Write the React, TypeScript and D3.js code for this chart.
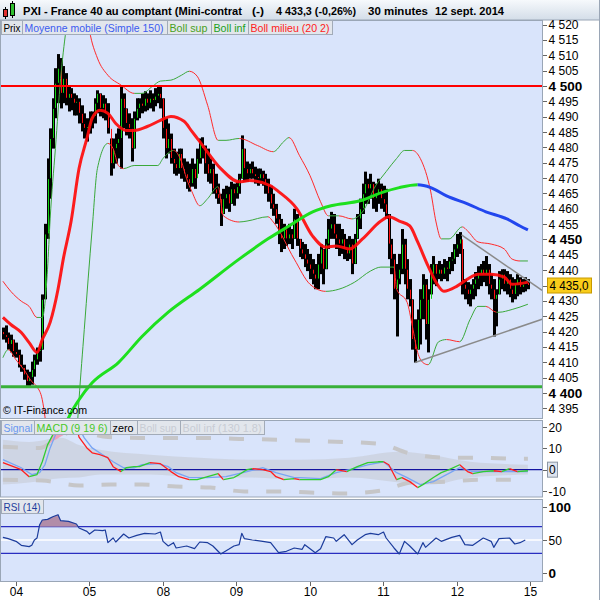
import React from 'react';
import * as d3 from 'd3';

// ---------- DATA ----------
const HIGH = [
  4421.3, 4422.0, 4419.7, 4419.0, 4417.4, 4416.4, 4414.1, 4412.5, 4409.2, 4407.6,
  4406.9, 4410.2, 4412.5, 4414.8, 4415.8, 4432.1, 4455.1, 4476.4, 4486.2, 4496.0,
  4505.8, 4510.4, 4509.1, 4506.5, 4504.2, 4500.3, 4499.3, 4497.6, 4497.0, 4496.0,
  4493.7, 4491.1, 4489.5, 4491.7, 4491.7, 4496.0, 4498.6, 4497.6, 4497.0, 4496.0,
  4494.4, 4482.9, 4482.9, 4484.5, 4486.2, 4500.3, 4497.6, 4492.7, 4491.1, 4489.5,
  4491.7, 4496.0, 4496.0, 4497.6, 4498.3, 4497.6, 4498.6, 4497.6, 4499.3, 4500.3,
  4500.0, 4496.0, 4489.5, 4487.8, 4484.5, 4479.6, 4478.6, 4479.6, 4479.6, 4476.4,
  4475.4, 4474.7, 4476.4, 4474.7, 4479.6, 4482.9, 4483.3, 4480.6, 4479.6, 4476.4,
  4474.7, 4471.4, 4468.2, 4464.9, 4466.5, 4467.5, 4467.2, 4468.8, 4468.2, 4468.8,
  4471.4, 4483.9, 4479.6, 4475.4, 4474.7, 4475.4, 4473.7, 4473.1, 4473.1, 4472.4,
  4471.4, 4469.8, 4467.5, 4464.9, 4461.6, 4458.3, 4456.7, 4455.1, 4454.4, 4455.1,
  4453.4, 4460.0, 4458.3, 4450.2, 4449.2, 4448.5, 4446.9, 4445.3, 4443.6, 4442.0,
  4445.3, 4448.5, 4446.9, 4450.2, 4456.7, 4459.0, 4458.3, 4455.1, 4455.1, 4453.4,
  4451.8, 4450.2, 4451.1, 4450.2, 4451.8, 4458.3, 4463.3, 4468.2, 4472.1, 4469.8,
  4471.4, 4468.8, 4468.2, 4469.8, 4468.2, 4467.5, 4466.5, 4458.3, 4450.2, 4445.3,
  4442.0, 4445.3, 4453.4, 4450.2, 4443.6, 4437.1, 4430.5, 4424.0, 4427.2, 4433.8,
  4438.7, 4437.1, 4433.8, 4442.0, 4444.6, 4442.0, 4443.0, 4442.0, 4443.6, 4443.0,
  4444.3, 4445.9, 4448.5, 4451.8, 4452.4, 4446.9, 4437.1, 4436.1, 4435.4, 4437.1,
  4439.4, 4441.3, 4442.0, 4443.0, 4444.6, 4442.0, 4438.7, 4437.1, 4433.8, 4439.7,
  4440.3, 4440.3, 4439.7, 4438.7, 4437.7, 4437.1, 4438.7, 4437.7, 4437.1, 4437.7,
  4437.1,
];
const LOW = [
  4417.4, 4416.4, 4414.1, 4413.2, 4411.8, 4411.5, 4408.3, 4406.9, 4404.3, 4402.3,
  4402.0, 4402.7, 4405.3, 4409.2, 4410.2, 4414.1, 4430.5, 4450.2, 4463.3, 4479.6,
  4489.5, 4494.4, 4492.7, 4494.4, 4493.7, 4491.7, 4492.1, 4490.4, 4490.4, 4487.8,
  4485.2, 4482.9, 4481.9, 4484.5, 4486.2, 4487.8, 4491.1, 4490.1, 4489.5, 4488.8,
  4484.5, 4470.8, 4473.1, 4474.7, 4476.4, 4473.1, 4486.2, 4483.9, 4482.9, 4475.4,
  4479.6, 4488.8, 4489.5, 4491.1, 4491.7, 4492.1, 4492.7, 4491.7, 4493.4, 4494.4,
  4492.7, 4482.9, 4476.4, 4478.0, 4474.7, 4471.4, 4470.8, 4471.4, 4469.8, 4468.8,
  4466.5, 4465.6, 4467.2, 4466.5, 4471.4, 4474.7, 4476.4, 4471.4, 4468.8, 4468.2,
  4464.9, 4463.3, 4461.6, 4454.4, 4458.3, 4460.0, 4459.0, 4461.6, 4461.0, 4463.3,
  4464.9, 4469.8, 4468.8, 4468.8, 4469.8, 4469.8, 4468.2, 4467.5, 4468.2, 4467.5,
  4464.9, 4462.3, 4460.0, 4457.7, 4455.1, 4448.5, 4445.9, 4446.9, 4447.9, 4448.5,
  4446.9, 4450.2, 4447.9, 4444.3, 4443.6, 4441.0, 4439.7, 4437.1, 4435.4, 4433.8,
  4433.8, 4438.7, 4435.4, 4440.3, 4446.9, 4450.2, 4450.2, 4446.9, 4444.6, 4445.3,
  4443.6, 4443.0, 4443.6, 4438.7, 4442.0, 4450.2, 4453.4, 4458.3, 4461.6, 4461.6,
  4463.3, 4460.0, 4459.0, 4461.6, 4460.0, 4459.0, 4456.7, 4443.6, 4438.7, 4430.5,
  4418.4, 4435.4, 4438.7, 4435.4, 4430.5, 4428.2, 4414.1, 4409.9, 4414.1, 4415.8,
  4424.0, 4417.4, 4413.2, 4432.1, 4435.4, 4434.8, 4437.1, 4436.4, 4437.1, 4436.4,
  4438.7, 4439.7, 4442.0, 4444.3, 4445.3, 4432.1, 4430.5, 4428.9, 4428.2, 4430.5,
  4431.5, 4433.8, 4434.8, 4436.1, 4434.8, 4432.1, 4430.5, 4418.4, 4421.7, 4432.1,
  4433.8, 4433.1, 4432.1, 4431.2, 4429.5, 4430.5, 4431.5, 4432.1, 4432.8, 4433.1,
  4433.8,
];
const CLOSE = [
  4419.0, 4418.1, 4415.8, 4417.4, 4413.5, 4412.5, 4409.2, 4408.3, 4405.9, 4403.7,
  4405.0, 4407.6, 4410.8, 4413.5, 4414.1, 4430.5, 4451.8, 4469.8, 4482.9, 4492.7,
  4500.9, 4505.8, 4497.6, 4502.5, 4496.0, 4497.6, 4496.0, 4494.4, 4495.0, 4491.1,
  4487.8, 4486.2, 4486.8, 4489.5, 4490.1, 4494.4, 4497.6, 4492.7, 4494.4, 4491.1,
  4486.2, 4474.7, 4479.6, 4481.3, 4482.9, 4496.0, 4492.7, 4487.8, 4486.2, 4479.6,
  4489.5, 4492.7, 4494.4, 4493.4, 4496.0, 4494.4, 4496.0, 4495.3, 4496.7, 4497.6,
  4496.0, 4486.2, 4479.6, 4482.9, 4476.4, 4474.7, 4473.1, 4478.0, 4473.1, 4471.4,
  4469.8, 4468.2, 4473.1, 4469.8, 4476.4, 4481.3, 4479.6, 4474.7, 4471.4, 4473.1,
  4466.5, 4464.9, 4463.3, 4458.3, 4463.3, 4464.9, 4461.6, 4466.5, 4464.9, 4467.2,
  4469.8, 4479.6, 4473.1, 4471.4, 4473.1, 4471.4, 4470.5, 4469.8, 4471.4, 4469.8,
  4468.2, 4464.9, 4461.6, 4460.0, 4456.7, 4451.8, 4450.2, 4453.4, 4450.2, 4451.8,
  4450.2, 4456.7, 4450.2, 4446.9, 4445.3, 4443.6, 4442.0, 4440.3, 4438.7, 4437.1,
  4442.0, 4446.9, 4440.3, 4448.5, 4453.4, 4455.1, 4451.8, 4450.2, 4448.5, 4450.2,
  4446.9, 4445.3, 4448.5, 4442.0, 4450.2, 4456.7, 4460.0, 4464.9, 4468.2, 4466.5,
  4468.2, 4463.3, 4464.9, 4466.5, 4463.3, 4461.6, 4458.3, 4448.5, 4443.6, 4433.8,
  4437.1, 4440.3, 4448.5, 4440.3, 4433.8, 4430.5, 4417.4, 4414.1, 4424.0, 4430.5,
  4435.4, 4422.3, 4430.5, 4438.7, 4442.0, 4438.7, 4440.3, 4438.7, 4441.0, 4440.3,
  4443.0, 4443.6, 4446.9, 4448.5, 4450.2, 4435.4, 4433.8, 4432.1, 4433.8, 4435.4,
  4437.1, 4438.7, 4440.3, 4438.7, 4440.3, 4435.4, 4433.8, 4430.5, 4432.1, 4437.1,
  4438.7, 4435.4, 4437.1, 4433.8, 4432.1, 4435.4, 4437.1, 4434.4, 4435.4, 4436.1,
  4435.0,
];
const FIRST_OPEN = 4420.0;

const DAY_LABELS = ['04', '05', '08', '09', '10', '11', '12', '15'];
const DAY_START = [5, 33, 61, 89, 117, 145, 173, 201];

const PRICE_TICKS = [4395, 4400, 4405, 4410, 4415, 4420, 4425, 4430, 4435, 4440, 4445, 4450, 4455,
  4460, 4465, 4470, 4475, 4480, 4485, 4490, 4495, 4500, 4505, 4510, 4515, 4520];
const BOLD_TICKS = [4400, 4450, 4500];
const MACD_TICKS = [20, 10, 0, -10];
const RSI_TICKS = [100, 50, 0];

type P = [number, number];

const BB_MID: P[] = [
  [0, 4424.6], [3, 4422.3], [7, 4419.7], [10, 4416.4], [13, 4413.2], [15, 4417.4], [18, 4423.0],
  [21, 4433.8], [23, 4443.6], [26, 4456.0], [29, 4473.1], [32, 4482.9], [34, 4489.5], [37, 4492.1],
  [40, 4491.1], [43, 4487.8], [47, 4485.5], [50, 4485.5], [55, 4486.8], [60, 4488.8], [64, 4490.1],
  [69, 4488.5], [72, 4485.2], [75, 4481.9], [83, 4473.1], [90, 4468.8], [94, 4469.2], [102, 4467.5],
  [105, 4465.6], [112, 4460.0], [118, 4451.1], [123, 4447.5], [127, 4447.9], [132, 4446.9],
  [137, 4450.2], [144, 4456.0], [147, 4457.4], [151, 4456.0], [155, 4454.4], [158, 4449.2],
  [162, 4441.3], [165, 4436.1], [168, 4433.1], [173, 4434.8], [177, 4437.1], [181, 4438.7],
  [186, 4438.7], [191, 4437.7], [194, 4435.4], [200, 4436.1],
];
const BB_UP: P[] = [
  [0, 4436.4], [3, 4433.1], [7, 4429.9], [10, 4428.2], [13, 4424.6], [15, 4424.6], [17, 4440.3],
  [18, 4456.7], [20, 4479.6], [22, 4502.5], [24, 4518.0], [26, 4528.7], [28, 4535.0], [31, 4530.0],
  [33, 4518.0], [36, 4509.1], [40, 4503.5], [45, 4500.3], [50, 4497.6], [53, 4497.6], [57, 4499.9],
  [60, 4501.6], [64, 4501.9], [68, 4503.5], [71, 4504.8], [74, 4503.2], [78, 4493.7], [82, 4482.3],
  [85, 4482.3], [90, 4482.9], [97, 4480.6], [103, 4478.6], [107, 4481.9], [109, 4483.2],
  [113, 4477.3], [117, 4470.8], [121, 4462.3], [124, 4457.7], [128, 4457.7], [133, 4456.7],
  [137, 4459.0], [142, 4467.5], [146, 4472.1], [150, 4476.4], [153, 4479.0], [156, 4479.0],
  [159, 4476.4], [163, 4465.5], [165, 4455.7], [167, 4450.2], [170, 4450.2], [175, 4454.1],
  [177, 4452.8], [181, 4449.2], [186, 4448.5], [191, 4446.9], [194, 4443.6], [197, 4443.0],
  [200, 4443.0],
];
const BB_LOW: P[] = [
  [0, 4411.5], [2, 4414.1], [5, 4410.8], [8, 4407.6], [11, 4403.7], [13, 4402.0], [15, 4397.8],
  [17, 4385.0], [19, 4365.0], [22, 4350.0], [25, 4345.0], [27, 4370.0], [29, 4397.8], [31, 4420.7],
  [34, 4453.4], [36, 4473.1], [40, 4481.3], [42, 4479.6], [44, 4474.1], [46, 4473.1], [50, 4474.1],
  [53, 4474.1], [59, 4474.1], [61, 4476.4], [65, 4479.0], [68, 4475.4], [70, 4469.8], [72, 4465.6],
  [75, 4461.0], [78, 4463.3], [82, 4467.2], [84, 4457.7], [90, 4455.7], [93, 4456.0], [101, 4457.4],
  [103, 4455.7], [111, 4443.6], [117, 4435.4], [123, 4433.1], [128, 4433.8], [134, 4436.1],
  [140, 4439.7], [144, 4441.0], [149, 4441.0], [150, 4433.8], [154, 4429.5], [156, 4421.7],
  [158, 4413.2], [160, 4409.9], [162, 4409.2], [166, 4416.7], [169, 4417.4], [174, 4416.7],
  [178, 4424.0], [181, 4428.2], [184, 4428.2], [188, 4426.3], [189, 4426.3], [194, 4427.2],
  [200, 4428.9],
];
const SMA150: P[] = [
  [20, 4378.0], [25, 4391.9], [29, 4397.8], [34, 4403.3], [44, 4409.9], [53, 4418.4], [63, 4426.3],
  [75, 4433.8], [90, 4443.6], [101, 4450.2], [109, 4454.4], [118, 4459.0], [125, 4461.0],
  [136, 4462.6], [144, 4465.2], [151, 4466.9], [158, 4467.8], [163, 4466.9], [169, 4464.2],
  [177, 4461.6], [184, 4459.0], [192, 4456.7], [197, 4454.4], [200, 4453.1],
];
const SUPPORT = 4402;
const RESISTANCE = 4500;
const TREND_UPPER: P[] = [[174.7, 4451.5], [205.4, 4433.4]];
const TREND_LOWER: P[] = [[157, 4409.9], [205.4, 4424.0]];
const LAST_PRICE = 4435.0;

const MACD: P[] = [
  [0, 3.3], [7, 0], [10, -3.3], [13, -2.3], [15, 3.7], [17, 11.6], [19, 16.3], [21, 23], [24, 30],
  [27, 26], [29, 15.3], [32, 10.2], [34, 7.9], [37, 7.0], [40, 5.6], [42, 1.4], [45, -0.9], [47, 0.9],
  [50, 1.4], [52, 1.4], [56, 3.3], [60, 2.8], [64, -0.9], [67, -3.3], [71, -4.7], [74, -4.7],
  [78, -3.3], [82, -1.9], [84, -4.7], [88, -3.7], [90, -2.3], [93, 0], [95, 0.5], [99, 0],
  [102, -0.9], [104, -3.3], [107, -4.7], [111, -4.2], [113, -4.7], [121, -4.7], [124, -3.3],
  [127, 0], [131, -0.9], [135, 1.4], [139, 3.3], [143, 3.7], [145, 3.7], [147, 2.3], [150, -4.7],
  [152, -3.7], [155, -5.6], [158, -8.4], [160, -7.0], [164, -3.7], [167, -1.4], [170, 0], [174, 2.3],
  [177, -0.9], [179, -1.9], [183, -0.9], [187, -0.5], [190, -0.9], [193, 0.5], [196, -0.9], [200, -0.5],
];
const SIGNAL: P[] = [
  [0, 4.7], [7, 0.9], [11, -2.3], [14, -1.4], [16, 2.3], [18, 10.2], [20, 16.3], [23, 24], [27, 24],
  [31, 14.9], [34, 10.2], [38, 7.0], [42, 3.7], [46, 0.9], [50, 0.9], [53, 2.3], [59, 2.8], [63, 1.4],
  [66, -1.4], [71, -3.7], [78, -3.7], [85, -3.3], [93, -0.9], [99, 0.9], [104, -1.4], [111, -3.7],
  [113, -3.7], [121, -4.2], [127, -1.4], [132, 0], [139, 2.3], [145, 3.7], [150, -1.4], [154, -3.7],
  [159, -7.0], [164, -5.6], [169, -2.3], [174, 0.9], [179, -0.9], [184, -0.9], [192, -0.9], [200, -0.9],
];
const MACD_BOLL_SUP: P[] = [
  [0, 10.7], [14, 10.2], [20, 14.0], [27, 18.1], [40, 15.3], [52, 14.9], [66, 14.9], [78, 14.9],
  [91, 14.4], [106, 14.0], [117, 13.5], [130, 13.0], [144, 12.1], [154, 7.9], [169, 5.6], [182, 5.6],
  [195, 5.1], [200, 5.1],
];
const MACD_BOLL_INF: P[] = [
  [0, -4.7], [15, -5.1], [29, -7.4], [41, -7.0], [53, -7.0], [66, -7.9], [79, -8.4], [92, -10.2],
  [106, -10.2], [117, -10.7], [130, -11.2], [144, -9.8], [156, -6.0], [169, -5.6], [181, -4.7],
  [195, -4.7], [200, -4.7],
];
const MACD_ZONE_IDX = [0, 10, 22, 29, 37, 56, 75, 94, 113, 132, 151, 163, 178, 200];
const MACD_ZONE_TOP = [14, 13, 15, 11.6, 9.3, 7, 5.6, 4.7, 4.7, 5.6, 8.4, 7, 3.7, 2.3];
const MACD_ZONE_BOT = [-7, -6, -4, -3.7, -2.3, -2.3, -3.7, -3.7, -4.7, -3.7, -6, -7, -3.7, -2.3];

const RSI: P[] = [
  [0, 54], [2, 52], [5, 48], [7, 42], [10, 40], [11, 42], [12, 50], [13, 53], [14, 73], [15, 80],
  [17, 81], [19, 85], [21, 88], [22, 79], [25, 78], [28, 74], [29, 68], [32, 63], [33, 59], [35, 65],
  [38, 64], [39, 65], [40, 46], [42, 53], [43, 47], [46, 59], [48, 53], [51, 57], [54, 60], [58, 59],
  [60, 62], [61, 48], [63, 41], [65, 46], [66, 38], [70, 41], [73, 37], [75, 47], [78, 46], [80, 41],
  [83, 29], [86, 36], [88, 41], [90, 43], [91, 60], [92, 52], [95, 50], [99, 48], [102, 46], [105, 31],
  [108, 33], [111, 38], [114, 36], [115, 43], [119, 31], [121, 37], [123, 55], [126, 53], [127, 48],
  [130, 58], [133, 43], [135, 50], [138, 58], [140, 60], [143, 58], [145, 62], [146, 53], [149, 38],
  [151, 29], [153, 48], [155, 41], [158, 29], [160, 46], [161, 39], [165, 53], [167, 48], [171, 54],
  [174, 57], [176, 43], [179, 42], [183, 53], [186, 48], [187, 39], [189, 52], [193, 53], [195, 44],
  [197, 46], [199, 50],
];

// ---------- LAYOUT ----------
const FONT = "Arial, 'Liberation Sans', sans-serif";
const PX0 = 0.5;
const PX1 = 542.5;
const MAIN = { y0: 20.5, y1: 418.5 };
const MP = { y0: 420.5, y1: 497 };
const RP = { y0: 499.5, y1: 581.5 };
const PANEL_BG = '#d9e4fb';
const BORDER = '#9aa6b6';

const x = d3.scaleLinear().domain([0, 200]).range([2.9, 527.9]);
const yP = d3.scaleLinear().domain([4395, 4500]).range([408.3, 86]);
const yM = d3.scaleLinear().domain([-10, 20]).range([491, 427]);
const yR = d3.scaleLinear().domain([0, 100]).range([573.3, 506.7]);

const fmtPrice = (v: number) => `${Math.floor(v / 1000)} ${String(v % 1000).padStart(3, '0')}`;

function DirLine(props: {
  id: string; pts: P[]; ys: d3.ScaleLinear<number, number>; up: string; down: string;
  width: number; curve?: d3.CurveFactory; opacity?: number;
}) {
  const { id, pts, ys, up, down, width, curve, opacity } = props;
  const line = d3.line<P>().x((d) => x(d[0])).y((d) => ys(d[1])).curve(curve || d3.curveLinear);
  const dStr = line(pts) || '';
  const upR: number[][] = [];
  const dnR: number[][] = [];
  for (let k = 0; k < pts.length - 1; k++) {
    const a = k === 0 ? -10 : x(pts[k][0]);
    const b = k === pts.length - 2 ? 700 : x(pts[k + 1][0]);
    if (pts[k + 1][1] >= pts[k][1]) upR.push([a, b]);
    else dnR.push([a, b]);
  }
  return (
    <g>
      <defs>
        <clipPath id={id + 'u'}>
          {upR.map((r, i) => <rect key={i} x={r[0]} y={-100} width={r[1] - r[0]} height={900} />)}
        </clipPath>
        <clipPath id={id + 'd'}>
          {dnR.map((r, i) => <rect key={i} x={r[0]} y={-100} width={r[1] - r[0]} height={900} />)}
        </clipPath>
      </defs>
      <path d={dStr} fill="none" stroke={up} strokeWidth={width} clipPath={`url(#${id}u)`} opacity={opacity ?? 1} strokeLinejoin="round" />
      <path d={dStr} fill="none" stroke={down} strokeWidth={width} clipPath={`url(#${id}d)`} opacity={opacity ?? 1} strokeLinejoin="round" />
    </g>
  );
}

function LegendBox(props: { x: number; y: number; w: number; text: string; color: string; tl: number }) {
  const { x: bx, y, w, text, color, tl } = props;
  return (
    <g>
      <rect x={bx + 0.5} y={y + 0.5} width={w} height={14} fill="#e2e6ec" stroke="#a2abb8" />
      <text x={bx + 2.5} y={y + 11.5} fontSize={10.8} fontFamily={FONT} fill={color}
        textLength={tl} lengthAdjust="spacingAndGlyphs">{text}</text>
    </g>
  );
}

export default function App() {
  const mainLine = (pts: P[]) => d3.line<P>().x((d) => x(d[0])).y((d) => yP(d[1])).curve(d3.curveMonotoneX)(pts) || '';
  const macdLine = (pts: P[]) => d3.line<P>().x((d) => x(d[0])).y((d) => yM(d[1]))(pts) || '';
  const macdSmooth = (pts: P[]) => d3.line<P>().x((d) => x(d[0])).y((d) => yM(d[1])).curve(d3.curveMonotoneX)(pts) || '';
  const zone = d3.area<number>()
    .x((_, k) => x(MACD_ZONE_IDX[k]))
    .y0((_, k) => yM(MACD_ZONE_BOT[k]))
    .y1((_, k) => yM(MACD_ZONE_TOP[k]))
    .curve(d3.curveMonotoneX)(MACD_ZONE_IDX) || '';
  const underMacd = d3.area<P>().x((d) => x(d[0])).y0(700).y1((d) => yM(d[1]))(MACD) || '';
  const aboveSup = d3.area<P>().x((d) => x(d[0])).y0(0).y1((d) => yM(d[1])).curve(d3.curveMonotoneX)(MACD_BOLL_SUP) || '';
  const rsiLine = d3.line<P>().x((d) => x(d[0])).y((d) => yR(d[1]))(RSI) || '';
  const underRsi = d3.area<P>().x((d) => x(d[0])).y0(700).y1((d) => yR(d[1]))(RSI) || '';
  const lastY = yP(LAST_PRICE);

  return (
    <svg width={600} height={600} style={{ position: 'fixed', left: 0, top: 0, background: '#fff' }}
      fontFamily={FONT}>
      <defs>
        <linearGradient id="hdr" x1="0" y1="0" x2="0" y2="1">
          <stop offset="0" stopColor="#f6f9fc" />
          <stop offset="1" stopColor="#d3dde8" />
        </linearGradient>
        <clipPath id="cMain"><rect x={PX0} y={MAIN.y0} width={PX1 - PX0} height={MAIN.y1 - MAIN.y0} /></clipPath>
        <clipPath id="cMacd"><rect x={PX0} y={MP.y0} width={PX1 - PX0} height={MP.y1 - MP.y0} /></clipPath>
        <clipPath id="cRsi"><rect x={PX0} y={RP.y0} width={PX1 - PX0} height={RP.y1 - RP.y0} /></clipPath>
        <clipPath id="cUnderMacd"><path d={underMacd} /></clipPath>
        <clipPath id="cUnderRsi"><path d={underRsi} /></clipPath>
      </defs>
      <rect x={0} y={0} width={600} height={600} fill="#fff" />

      {/* Header */}
      <rect x={0} y={0} width={600} height={20} fill="url(#hdr)" />
      <line x1={0} x2={600} y1={20} y2={20} stroke={BORDER} />
      <line x1={599.5} x2={599.5} y1={0} y2={600} stroke={BORDER} />
      <g>
        <line x1={5.5} x2={5.5} y1={7} y2={19} stroke="#000" />
        <rect x={3.5} y={9.5} width={4} height={7} fill="#e03030" stroke="#000" />
        <line x1={12.5} x2={12.5} y1={1} y2={18} stroke="#000" />
        <rect x={10.5} y={3.5} width={4} height={12} fill="#30c030" stroke="#000" />
      </g>
      <g fontWeight="bold" fontSize={11} fill="#000">
        <text x={23} y={15} textLength={219} lengthAdjust="spacingAndGlyphs">PXI - France 40 au comptant (Mini-contrat</text>
        <text x={252} y={15} textLength={12} lengthAdjust="spacingAndGlyphs">(-)</text>
        <text x={276} y={15} textLength={80} lengthAdjust="spacingAndGlyphs">4 433,3 (-0,26%)</text>
        <text x={368} y={15} textLength={60} lengthAdjust="spacingAndGlyphs">30 minutes</text>
        <text x={435} y={15} textLength={69} lengthAdjust="spacingAndGlyphs">12 sept. 2014</text>
      </g>

      {/* ===== MAIN PANEL ===== */}
      <rect x={PX0} y={MAIN.y0} width={PX1 - PX0} height={MAIN.y1 - MAIN.y0} fill={PANEL_BG} />
      <g clipPath="url(#cMain)">
        {CLOSE.map((c, i) => {
          const o = i === 0 ? FIRST_OPEN : CLOSE[i - 1];
          const xi = Math.round(x(i));
          const top = yP(HIGH[i]);
          const bot = yP(LOW[i]);
          return (
            <g key={i}>
              <rect x={xi - 1} y={top} width={3} height={Math.max(1.5, bot - top)} fill="#000" />
              <line x1={xi + 0.5} x2={xi + 0.5} y1={yP(Math.max(o, c)) + 0.5} y2={yP(Math.min(o, c)) - 0.5}
                stroke={c >= o ? '#10d010' : '#ff1010'} strokeWidth={1} />
            </g>
          );
        })}
        <DirLine id="bbu" pts={BB_UP} ys={yP} up="#3aa83a" down="#ff2a2a" width={1} curve={d3.curveMonotoneX} />
        <DirLine id="bbl" pts={BB_LOW} ys={yP} up="#3aa83a" down="#ff2a2a" width={1} curve={d3.curveMonotoneX} />
        <path d={mainLine(BB_MID)} fill="none" stroke="#ff0a0a" strokeWidth={3} opacity={0.92} />
        <DirLine id="sma" pts={SMA150} ys={yP} up="#1ee01e" down="#2246ee" width={3} curve={d3.curveMonotoneX} />
        <line x1={PX0} x2={PX1} y1={yP(RESISTANCE)} y2={yP(RESISTANCE)} stroke="#ff0000" strokeWidth={2} />
        <line x1={PX0} x2={PX1} y1={yP(SUPPORT)} y2={yP(SUPPORT)} stroke="#38b038" strokeWidth={3} />
        <path d={d3.line<P>().x((d) => x(d[0])).y((d) => yP(d[1]))(TREND_UPPER) || ''} stroke="#8a8a8a" strokeWidth={1.5} fill="none" />
        <path d={d3.line<P>().x((d) => x(d[0])).y((d) => yP(d[1]))(TREND_LOWER) || ''} stroke="#8a8a8a" strokeWidth={1.5} fill="none" />
      </g>
      <rect x={PX0} y={MAIN.y0} width={PX1 - PX0} height={MAIN.y1 - MAIN.y0} fill="none" stroke={BORDER} />
      <LegendBox x={1} y={20} w={21} text="Prix" color="#000" tl={17} />
      <LegendBox x={22} y={20} w={145} text="Moyenne mobile (Simple 150)" color="#3c5cf0" tl={139} />
      <LegendBox x={167} y={20} w={44} text="Boll sup" color="#48a020" tl={38} />
      <LegendBox x={211} y={20} w={37} text="Boll inf" color="#20a020" tl={32} />
      <LegendBox x={248} y={20} w={84} text="Boll milieu (20 2)" color="#ff2020" tl={79} />
      <text x={3} y={414} fontSize={11.5} fill="#000" textLength={84} lengthAdjust="spacingAndGlyphs">© IT-Finance.com</text>

      {/* Main axis */}
      {PRICE_TICKS.map((v) => {
        const yy = yP(v);
        const bold = BOLD_TICKS.includes(v);
        const hidden = Math.abs(yy - lastY) < 8;
        return (
          <g key={v}>
            <line x1={543} x2={547} y1={Math.round(yy) + 0.5} y2={Math.round(yy) + 0.5} stroke="#666" />
            {!hidden && (
              <text x={548.5} y={yy + (bold ? 5 : 4.5)} fontSize={bold ? 13.5 : 12} fontWeight={bold ? 'bold' : 'normal'} fill="#000">
                {fmtPrice(v)}
              </text>
            )}
          </g>
        );
      })}
      <rect x={547.5} y={lastY - 7.5} width={44} height={15} fill="#f9cc1a" stroke="#c89a00" />
      <text x={549.5} y={lastY + 4.5} fontSize={12} fill="#000" textLength={39} lengthAdjust="spacingAndGlyphs">4 435,0</text>

      {/* ===== MACD PANEL ===== */}
      <rect x={PX0} y={MP.y0} width={PX1 - PX0} height={MP.y1 - MP.y0} fill={PANEL_BG} />
      <g clipPath="url(#cMacd)">
        <path d={zone} fill="#c4c8d2" opacity={0.55} />
        <path d={macdSmooth(MACD_BOLL_SUP)} fill="none" stroke="#c6c6c8" strokeWidth={4} strokeDasharray="15 18" />
        <path d={macdSmooth(MACD_BOLL_INF)} fill="none" stroke="#c6c6c8" strokeWidth={4} strokeDasharray="15 18" />
        <g clipPath="url(#cUnderMacd)">
          <path d={aboveSup} fill="#eea2bc" />
        </g>
        <line x1={PX0} x2={PX1} y1={yM(0)} y2={yM(0)} stroke="#1414a0" strokeWidth={1.2} />
        <path d={macdLine(SIGNAL)} fill="none" stroke="#78a4f4" strokeWidth={1.3} />
        <DirLine id="macd" pts={MACD} ys={yM} up="#30cc30" down="#ff1e1e" width={1.3} />
      </g>
      <rect x={PX0} y={MP.y0} width={PX1 - PX0} height={MP.y1 - MP.y0} fill="none" stroke={BORDER} />
      <LegendBox x={1} y={420} w={33} text="Signal" color="#6a98f0" tl={29} />
      <LegendBox x={34} y={420} w={76} text="MACD (9 19 6)" color="#48c828" tl={71} />
      <LegendBox x={110} y={420} w={27} text="zero" color="#000" tl={21} />
      <LegendBox x={137} y={420} w={43} text="Boll sup" color="#c8ccd4" tl={37} />
      <LegendBox x={180} y={420} w={84} text="Boll inf (130 1.8)" color="#c8ccd4" tl={79} />
      {MACD_TICKS.map((v) => {
        const yy = yM(v);
        return (
          <g key={v}>
            <line x1={543} x2={547} y1={Math.round(yy) + 0.5} y2={Math.round(yy) + 0.5} stroke="#666" />
            {v === 0 && <rect x={547.5} y={yy - 7.5} width={10} height={15} fill="#dde3ee" stroke="#8c96a4" />}
            <text x={v === 0 ? 549 : 548.5} y={yy + 4.5} fontSize={12} fill="#000">{v}</text>
          </g>
        );
      })}

      {/* ===== RSI PANEL ===== */}
      <rect x={PX0} y={RP.y0} width={PX1 - PX0} height={RP.y1 - RP.y0} fill={PANEL_BG} />
      <g clipPath="url(#cRsi)">
        <line x1={PX0} x2={PX1} y1={yR(70)} y2={yR(70)} stroke="#2a2ec0" strokeWidth={1.2} />
        <line x1={PX0} x2={PX1} y1={yR(30)} y2={yR(30)} stroke="#2a2ec0" strokeWidth={1.2} />
        <line x1={PX0} x2={PX1} y1={yR(50)} y2={yR(50)} stroke="#ffffff" strokeWidth={1.5} />
        <g clipPath="url(#cUnderRsi)">
          <rect x={PX0} y={RP.y0} width={PX1 - PX0} height={yR(70) - RP.y0} fill="#b28ca8" />
        </g>
        <path d={rsiLine} fill="none" stroke="#1c3c9c" strokeWidth={1.2} strokeLinejoin="round" />
      </g>
      <rect x={PX0} y={RP.y0} width={PX1 - PX0} height={RP.y1 - RP.y0} fill="none" stroke={BORDER} />
      <LegendBox x={1} y={499} w={42} text="RSI (14)" color="#1c3c9c" tl={37} />
      {RSI_TICKS.map((v) => {
        const yy = yR(v);
        const bold = v !== 50;
        return (
          <g key={v}>
            <line x1={543} x2={547} y1={Math.round(yy) + 0.5} y2={Math.round(yy) + 0.5} stroke="#666" />
            <text x={548.5} y={yy + 5} fontSize={bold ? 13.5 : 12} fontWeight={bold ? 'bold' : 'normal'} fill="#000">{v}</text>
          </g>
        );
      })}

      {/* X axis */}
      {DAY_START.map((i, k) => {
        const xx = Math.round(x(i) - 0.5) + 0.5;
        return (
          <g key={k}>
            <line x1={xx} x2={xx} y1={582} y2={586} stroke="#666" />
            <text x={xx} y={596} fontSize={12} textAnchor="middle" fill="#000">{DAY_LABELS[k]}</text>
          </g>
        );
      })}
    </svg>
  );
}
